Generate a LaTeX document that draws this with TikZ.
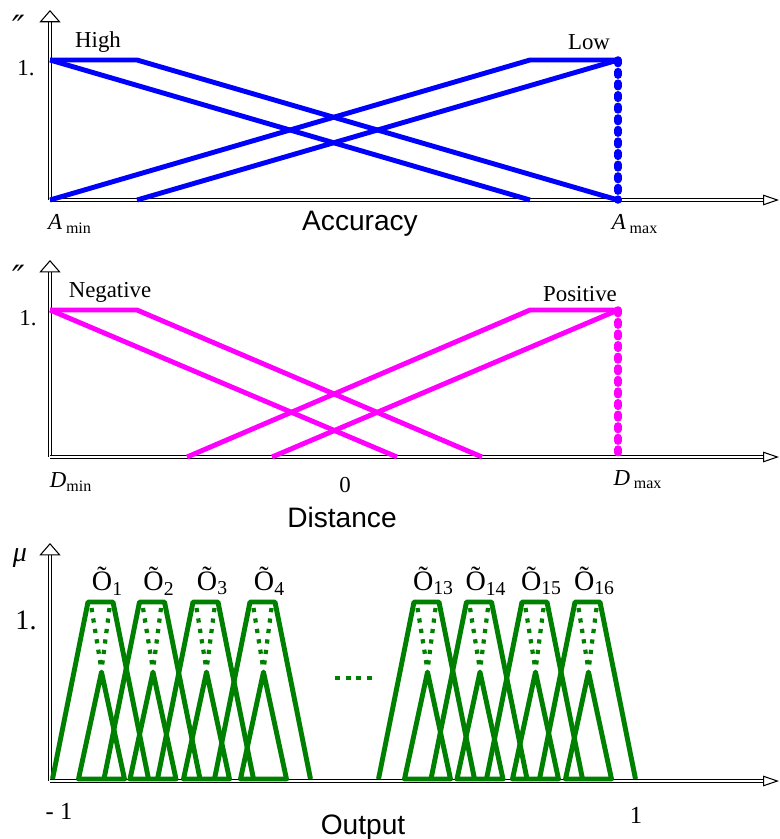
\documentclass[tikz,border=0pt]{standalone}
\usepackage{fontspec}
\setmainfont{Liberation Serif}
\setsansfont{Liberation Sans}
\newfontfamily\primefont{DejaVu Serif}
\usetikzlibrary{arrows.meta}

\begin{document}
\begin{tikzpicture}[x=0.02cm, y=-0.02cm]
    \tikzstyle{axis} = [double, line width=0.5pt, double distance=1.3pt]
    \tikzstyle{uptip} = [-{Triangle[open, length=7pt, width=12pt, line width=0.6pt]}]
    \tikzstyle{righttip} = [-{Triangle[open, length=9pt, width=6pt, line width=0.6pt]}]
    \tikzstyle{mf} = [line width=2.8pt, line join=round]
    \tikzstyle{edge} = [line width=4.3pt, line cap=round, dash pattern=on 2pt off 4.6pt]
    \tikzstyle{inner} = [line width=2.4pt, dash pattern=on 2.4pt off 3.6pt]
    \tikzstyle{lbl} = [font=\fontsize{13}{15}\selectfont, inner sep=0pt]
    \tikzstyle{title} = [font=\sffamily\fontsize{16}{18}\selectfont, inner sep=0pt]
    \tikzstyle{prime} = [font=\primefont\itshape\fontsize{19}{21}\selectfont, inner sep=0pt]
    \definecolor{mfgreen}{RGB}{0,128,0}
    \definecolor{mfpink}{RGB}{255,0,255}
    \definecolor{mfblue}{RGB}{0,0,255}

    \useasboundingbox (0,0) rectangle (779,839);

    % Accuracy
    \coordinate (ao) at (50,200);
    \draw [axis, uptip] (ao) -- (50,10);
    \draw [axis, righttip] (ao) -- (779,200);
    \node [prime] (amu) at (19,27) {″};
    \node [lbl] (aone) at (26,68) {1.};
    \node [lbl] (high) at (98,42) {High};
    \node [lbl] (low) at (589,42) {Low};
    \node [lbl] (amin) at (70,224) {\textit{A}\,\textsubscript{min}};
    \node [lbl] (amax) at (635,224) {\textit{A}\,\textsubscript{max}};
    \node [title] (accuracy) at (360,224) {Accuracy};
    \draw [mf, mfblue] (50,60) -- (530,200);
    \draw [mf, mfblue] (50,60) -- (137,60) -- (618,200);
    \draw [mf, mfblue] (50,200) -- (530,60) -- (618,60);
    \draw [mf, mfblue] (137,200) -- (618,60);
    \draw [edge, mfblue] (618,60) -- (618,200);

    % Distance
    \coordinate (do) at (50,457);
    \draw [axis, uptip] (do) -- (50,260);
    \draw [axis, righttip] (do) -- (779,457);
    \node [prime] (dmu) at (19,277) {″};
    \node [lbl] (done) at (28,318) {1.};
    \node [lbl] (negative) at (110,292) {Negative};
    \node [lbl] (positive) at (580,294) {Positive};
    \node [lbl] (dmin) at (71,482) {\textit{D}\textsubscript{min}};
    \node [lbl] (dmax) at (638,480) {\textit{D}\,\textsubscript{max}};
    \node [lbl] (zero) at (345,485) {0};
    \node [title] (distance) at (342,517) {Distance};
    \draw [mf, mfpink] (50,310) -- (397,457);
    \draw [mf, mfpink] (50,310) -- (137,310) -- (482,457);
    \draw [mf, mfpink] (187,457) -- (530,310) -- (618,310);
    \draw [mf, mfpink] (272,457) -- (618,310);
    \draw [edge, mfpink] (618,310) -- (618,457);

    % Output
    \coordinate (oo) at (50,781);
    \draw [axis, uptip] (oo) -- (50,543);
    \draw [axis, righttip] (oo) -- (779,781);
    \node [lbl, font=\itshape\fontsize{16}{18}\selectfont] (omu) at (20,558) {μ};
    \node [lbl, font=\fontsize{16}{18}\selectfont] (oone) at (26,620) {1.};
    \node [lbl, font=\fontsize{14}{16}\selectfont] (mone) at (59,811) {- 1};
    \node [lbl, font=\fontsize{14}{16}\selectfont] (pone) at (636,815) {1};
    \node [title, anchor=base] (output) at (363,834) {Output};
    \foreach \c/\k in {100.5/1, 152/2, 205.5/3, 262.5/4, 426.5/13, 479/14, 534.5/15, 587.5/16} {
        \draw [mf, mfgreen] (\c-48,779) -- (\c-12.5,602) -- (\c+12.5,602) -- (\c+48,779);
        \draw [mf, mfgreen] (\c-22,779) -- (\c+1,672) -- (\c+24,779) -- cycle;
        \draw [inner, mfgreen] (\c-9,608) -- (\c+1,670);
        \draw [inner, mfgreen] (\c+9,608) -- (\c+1,670);
        \node [lbl, font=\fontsize{16}{18}\selectfont] (o\k) at (\c+7,581) {\~O\textsubscript{\k}};
    }
    \draw [mfgreen, line width=2.8pt, dash pattern=on 2.8pt off 3.3pt] (335,678) -- (376,678);
\end{tikzpicture}
\end{document}
